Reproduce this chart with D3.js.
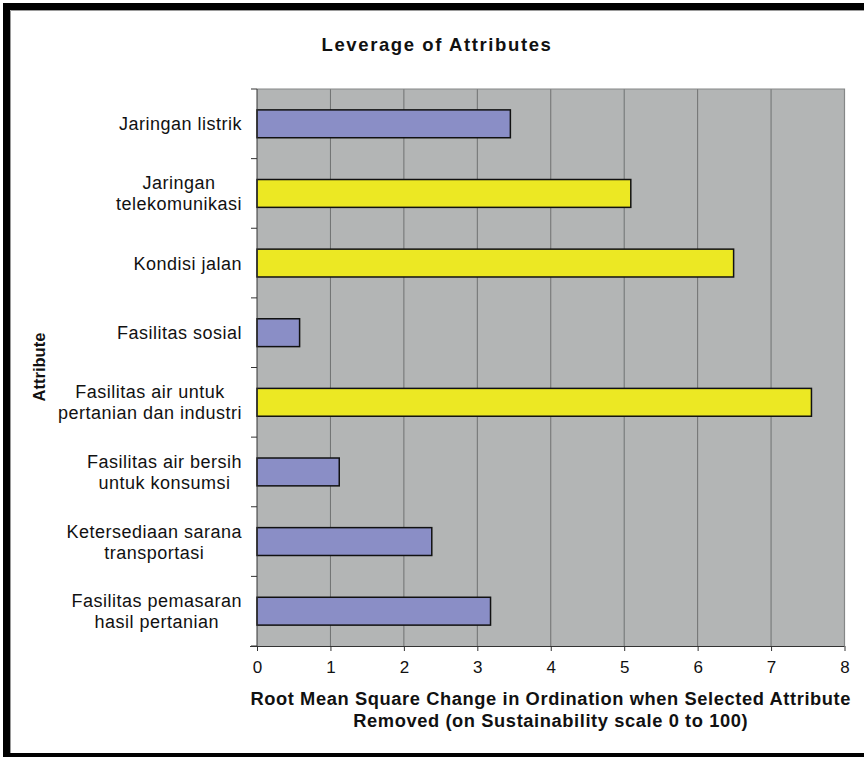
<!DOCTYPE html>
<html>
<head>
<meta charset="utf-8">
<script src="https://cdn.jsdelivr.net/npm/d3@7"></script>
<style>
  html, body { margin: 0; padding: 0; background: #fff; }
  svg { display: block; font-family: "Liberation Sans", Arial, sans-serif; }
</style>
</head>
<body>
<svg id="chart" width="864" height="757"></svg>
<script>
// Attribute names (each entry is the list of label lines)
const attributes = [
  ["Jaringan listrik"],
  ["Jaringan", "telekomunikasi"],
  ["Kondisi jalan"],
  ["Fasilitas sosial"],
  ["Fasilitas air untuk", "pertanian dan industri"],
  ["Fasilitas air bersih", "untuk konsumsi"],
  ["Ketersediaan sarana", "transportasi"],
  ["Fasilitas pemasaran", "hasil pertanian"]
];
// RMS change when the attribute is removed
const leverage = [3.45, 5.09, 6.49, 0.58, 7.55, 1.12, 2.38, 3.18];
// Highlighted (most sensitive) attributes
const highlighted = [false, true, true, false, true, false, false, false];
const xTicks = [0, 1, 2, 3, 4, 5, 6, 7, 8];
const chartTitle = "Leverage of Attributes";
const xTitleLines = ["Root Mean Square Change in Ordination when Selected Attribute",
                     "Removed (on Sustainability scale 0 to 100)"];
const yTitle = "Attribute";

const svg = d3.select("#chart");

// Frame
svg.append("rect").attr("x", 3).attr("y", 3).attr("width", 861).attr("height", 7).attr("fill", "#000");
svg.append("rect").attr("x", 3).attr("y", 3).attr("width", 7).attr("height", 754).attr("fill", "#000");
svg.append("rect").attr("x", 3).attr("y", 753).attr("width", 861).attr("height", 4).attr("fill", "#000");
svg.append("line").attr("x1", 10.5).attr("x2", 864).attr("y1", 10.5).attr("y2", 10.5).attr("stroke", "#9a9a9a");
svg.append("line").attr("x1", 10.5).attr("x2", 10.5).attr("y1", 10.5).attr("y2", 753).attr("stroke", "#9a9a9a");

const plot = { left: 257, right: 844.5, top: 89, bottom: 646 };

const x = d3.scaleLinear().domain([0, 8]).range([plot.left, plot.right]);
const y = d3.scaleBand()
  .domain(d3.range(attributes.length))
  .range([plot.top, plot.bottom])
  .paddingInner(0.6)
  .paddingOuter(0.3);

// Plot background
svg.append("rect")
  .attr("x", plot.left).attr("y", plot.top)
  .attr("width", plot.right - plot.left).attr("height", plot.bottom - plot.top)
  .attr("fill", "#b3b5b5");

// Vertical gridlines
svg.append("g")
  .selectAll("line")
  .data(xTicks.slice(1, -1))
  .join("line")
  .attr("x1", d => x(d)).attr("x2", d => x(d))
  .attr("y1", plot.top).attr("y2", plot.bottom)
  .attr("stroke", "#6f7171").attr("stroke-width", 1);

// Plot border (top and right)
svg.append("path")
  .attr("d", `M${plot.left},${plot.top}H${plot.right}V${plot.bottom}`)
  .attr("fill", "none").attr("stroke", "#858787").attr("stroke-width", 1.2);

// Bars
svg.append("g")
  .selectAll("rect")
  .data(leverage)
  .join("rect")
  .attr("x", x(0))
  .attr("y", (d, i) => y(i))
  .attr("width", d => x(d) - x(0))
  .attr("height", y.bandwidth())
  .attr("fill", (d, i) => highlighted[i] ? "#ece823" : "#8a8ec6")
  .attr("stroke", "#111")
  .attr("stroke-width", 1.5);

// X axis
const xAxis = svg.append("g")
  .attr("transform", `translate(0,${plot.bottom})`)
  .call(d3.axisBottom(x).tickValues(xTicks).tickSize(5).tickPadding(10).tickFormat(d3.format("d")));
xAxis.select(".domain").attr("stroke", "#333").attr("d", `M${plot.left - 7},0.5H${plot.right}`);
xAxis.selectAll(".tick line").attr("stroke", "#333");
xAxis.selectAll(".tick text").attr("font-size", 17).attr("fill", "#111").attr("font-family", "Liberation Sans, Arial, sans-serif");

// Y axis: line with ticks at category boundaries
const boundaries = d3.range(attributes.length + 1).map(i => plot.top + i * (plot.bottom - plot.top) / attributes.length);
const yAxis = svg.append("g");
yAxis.append("line")
  .attr("x1", plot.left).attr("x2", plot.left)
  .attr("y1", plot.top).attr("y2", plot.bottom)
  .attr("stroke", "#333");
yAxis.selectAll("line.tk")
  .data(boundaries)
  .join("line").attr("class", "tk")
  .attr("x1", plot.left - 6).attr("x2", plot.left)
  .attr("y1", d => d).attr("y2", d => d)
  .attr("stroke", "#333");

// Category labels: block right-aligned, lines centered within block
const labelRight = 242;
const lineGap = 21;
attributes.forEach((lines, i) => {
  const cy = y(i) + y.bandwidth() / 2;
  const g = svg.append("g");
  const texts = lines.map((ln, j) => g.append("text")
    .attr("font-size", 18)
    .attr("letter-spacing", 0.5)
    .attr("fill", "#111")
    .attr("text-anchor", "middle")
    .attr("y", cy + 6.5 + (j - (lines.length - 1) / 2) * lineGap)
    .text(ln));
  const maxW = d3.max(texts, t => t.node().getComputedTextLength());
  texts.forEach(t => t.attr("x", labelRight - maxW / 2));
});

// Chart title
svg.append("text")
  .attr("x", 437).attr("y", 51)
  .attr("text-anchor", "middle")
  .attr("font-size", 18.5).attr("font-weight", "bold")
  .attr("letter-spacing", 1.6)
  .attr("fill", "#111")
  .text(chartTitle);

// X axis title
svg.append("g").selectAll("text")
  .data(xTitleLines)
  .join("text")
  .attr("x", (plot.left + plot.right) / 2)
  .attr("y", (d, i) => 705 + i * 22)
  .attr("text-anchor", "middle")
  .attr("font-size", 18.3).attr("font-weight", "bold")
  .attr("letter-spacing", 0.6)
  .attr("fill", "#111")
  .text(d => d);

// Y axis title
svg.append("text")
  .attr("transform", `translate(45,367) rotate(-90)`)
  .attr("text-anchor", "middle")
  .attr("font-size", 16.5).attr("font-weight", "bold")
  .attr("fill", "#111")
  .text(yTitle);
</script>
</body>
</html>
